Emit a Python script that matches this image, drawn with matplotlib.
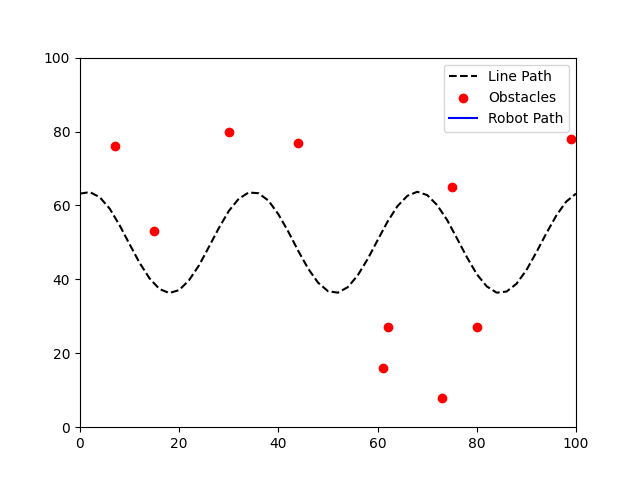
import matplotlib
matplotlib.use("Agg")
import matplotlib.pyplot as plt

path_x = list(range(0, 101, 2))
path_y = [63.2, 63.6, 62.2, 59.1, 54.6, 49.5, 44.5, 40.3, 37.4, 36.3,
          37.1, 39.8, 43.8, 48.8, 53.9, 58.5, 61.8, 63.5, 63.3, 61.3,
          57.6, 52.9, 47.7, 42.9, 39.1, 36.8, 36.4, 37.9, 41.1, 45.5,
          50.6, 55.6, 59.8, 62.6, 63.7, 62.8, 60.1, 56.1, 51.1, 46.0,
          41.4, 38.1, 36.4, 36.7, 38.8, 42.5, 47.3, 52.4, 57.2, 61.0, 63.2]
obs_x = [7, 15, 30, 44, 99, 75, 62, 61, 80, 73]
obs_y = [76, 53, 80, 77, 78, 65, 27, 16, 27, 8]
robot_x = []
robot_y = []

fig, ax = plt.subplots(figsize=(6.4, 4.8), dpi=100)
ax.plot(path_x, path_y, 'k--', label='Line Path')
ax.scatter(obs_x, obs_y, color='red', label='Obstacles')
ax.plot(robot_x, robot_y, 'b-', label='Robot Path')
ax.set_xlim(0, 100)
ax.set_ylim(0, 100)
ax.legend(loc='upper right')
fig.savefig('out.png')
